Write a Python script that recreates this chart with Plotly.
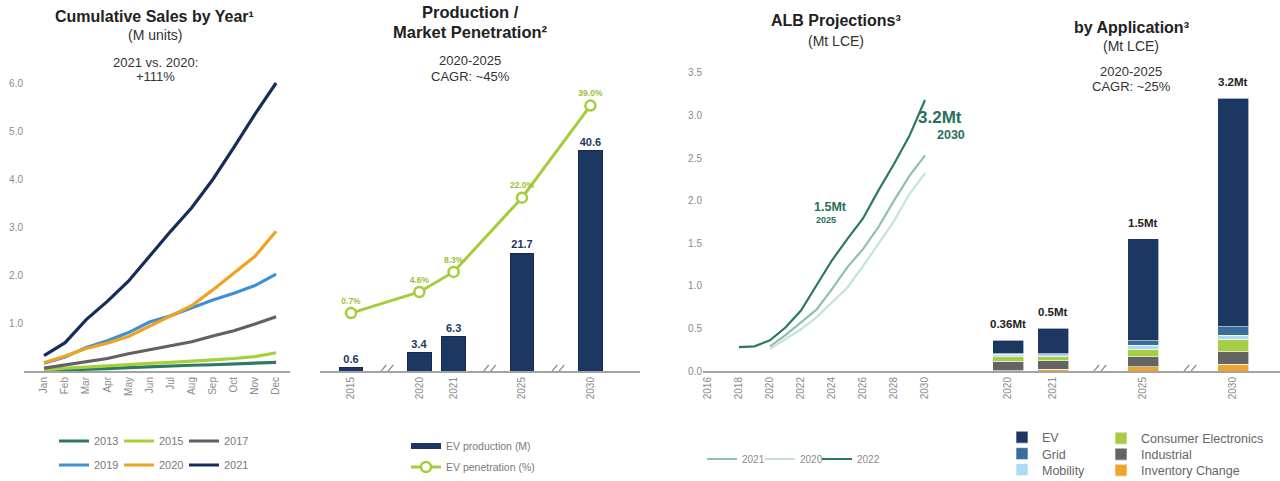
import plotly.graph_objects as go

# ---------------- data ----------------
months = ["Jan", "Feb", "Mar", "Apr", "May", "Jun", "Jul", "Aug", "Sep", "Oct", "Nov", "Dec"]
sales_2013 = [0.01, 0.02, 0.035, 0.05, 0.07, 0.09, 0.10, 0.12, 0.13, 0.15, 0.16, 0.18]
sales_2015 = [0.02, 0.06, 0.08, 0.11, 0.13, 0.16, 0.18, 0.20, 0.23, 0.26, 0.30, 0.38]
sales_2017 = [0.06, 0.13, 0.20, 0.26, 0.36, 0.44, 0.52, 0.61, 0.73, 0.84, 0.98, 1.13]
sales_2019 = [0.16, 0.29, 0.49, 0.63, 0.80, 1.02, 1.15, 1.31, 1.48, 1.62, 1.78, 2.02]
sales_2020 = [0.17, 0.31, 0.47, 0.58, 0.72, 0.93, 1.15, 1.36, 1.69, 2.04, 2.39, 2.91]
sales_2021 = [0.32, 0.59, 1.07, 1.45, 1.87, 2.40, 2.91, 3.40, 3.99, 4.66, 5.35, 6.00]

prod_years = ["2015", "2020", "2021", "2025", "2030"]
ev_production = [0.6, 3.4, 6.3, 21.7, 40.6]
ev_penetration = [0.7, 4.6, 8.3, 22.0, 39.0]

proj_years = list(range(2018, 2031))
proj_2022 = [0.28, 0.29, 0.36, 0.51, 0.71, 1.00, 1.30, 1.55, 1.79, 2.12, 2.43, 2.76, 3.18]
proj_years_b = list(range(2020, 2031))
proj_2021 = [0.29, 0.42, 0.57, 0.72, 0.96, 1.22, 1.43, 1.69, 2.00, 2.29, 2.53]
proj_2020 = [0.26, 0.38, 0.49, 0.63, 0.80, 0.98, 1.23, 1.49, 1.76, 2.08, 2.32]

app_years = ["2020", "2021", "2025", "2030"]
app_inventory = [0.005, 0.02, 0.05, 0.08]
app_industrial = [0.11, 0.10, 0.117, 0.145]
app_consumer = [0.05, 0.045, 0.09, 0.15]
app_mobility = [0.03, 0.027, 0.047, 0.047]
app_grid = [0.01, 0.012, 0.05, 0.10]
app_ev = [0.155, 0.296, 1.196, 2.678]
app_labels = ["0.36Mt", "0.5Mt", "1.5Mt", "3.2Mt"]

# ---------------- helpers ----------------
W, H = 1280, 481
FONT = "Liberation Sans, Arial, sans-serif"
GRAY_TXT = "#8a8a8a"
AXIS = "#a3a3a3"


def fx(p):
    return p / W


def fy(p):
    return 1 - p / H


def slots(years):
    out = [0]
    for a, b in zip(years[:-1], years[1:]):
        out.append(out[-1] + (1 if int(b) - int(a) == 1 else 2))
    return out


def breaks(sl):
    return [(a + b) / 2 for a, b in zip(sl[:-1], sl[1:]) if b - a == 2]


prod_slots = slots(prod_years)
app_slots = slots(app_years)

fig = go.Figure()
legend_layouts = {}


def hleg(x, y, size, color, ew=None, order="normal"):
    d = dict(orientation="h", x=fx(x), y=fy(y), xanchor="left", yanchor="middle",
             font=dict(family=FONT, size=size, color=color),
             bgcolor="rgba(0,0,0,0)", traceorder=order, borderwidth=0)
    if ew is not None:
        d.update(entrywidth=ew, entrywidthmode="pixels")
    return d


# ---------------- panel 1 ----------------
p1 = [("2013", sales_2013, "#2b7a66", "legend"),
      ("2015", sales_2015, "#a7cf3d", "legend"),
      ("2017", sales_2017, "#616161", "legend"),
      ("2019", sales_2019, "#4190d6", "legend2"),
      ("2020", sales_2020, "#f0a321", "legend2"),
      ("2021", sales_2021, "#132e5b", "legend2")]
for name, vals, col, lg in p1:
    fig.add_trace(go.Scatter(x=months, y=vals, name=name, mode="lines",
                             line=dict(color=col, width=3.2), legend=lg,
                             xaxis="x", yaxis="y"))
legend_layouts["legend"] = hleg(54, 441, 11, "#7a7a7a", ew=20)
legend_layouts["legend2"] = hleg(54, 465, 11, "#7a7a7a", ew=20)

# ---------------- panel 2 ----------------
NAVY = "#1d3763"
GREEN = "#a5cc3a"
fig.add_trace(go.Bar(x=prod_slots, y=ev_production, width=0.7,
                     marker=dict(color=NAVY, line=dict(color="#16294d", width=1)),
                     text=[f"{v}" for v in ev_production], textposition="outside",
                     textfont=dict(color=NAVY, size=11, family=FONT, weight="bold"),
                     cliponaxis=False, showlegend=False, xaxis="x2", yaxis="y2"))
fig.add_trace(go.Scatter(x=[None], y=[None], mode="lines", name="EV production (M)",
                         line=dict(color=NAVY, width=6), legend="legend3",
                         xaxis="x2", yaxis="y2"))
fig.add_trace(go.Scatter(x=prod_slots, y=ev_penetration, mode="lines+markers+text",
                         name="EV penetration (%)",
                         line=dict(color=GREEN, width=3),
                         marker=dict(symbol="circle", size=10, color="white",
                                     line=dict(color=GREEN, width=2.5)),
                         text=[f"{v:.1f}%" for v in ev_penetration],
                         textposition="top center",
                         textfont=dict(color="#9bbf35", size=8.5, family=FONT, weight="bold"),
                         cliponaxis=False, legend="legend4", xaxis="x2", yaxis="y3"))
legend_layouts["legend3"] = hleg(406, 446, 10.5, "#7a7a7a")
legend_layouts["legend4"] = hleg(406, 467, 10.5, "#7a7a7a")

# ---------------- panel 3 ----------------
p3 = [("2021", proj_years_b, proj_2021, "#8dc0b4", "legend5", 702),
      ("2020", proj_years_b, proj_2020, "#c6e2dc", "legend6", 760),
      ("2022", proj_years, proj_2022, "#2a7a63", "legend7", 817)]
for name, xs, vals, col, lg, lx in p3:
    fig.add_trace(go.Scatter(x=xs, y=vals, name=name, mode="lines",
                             line=dict(color=col, width=2.2), legend=lg,
                             xaxis="x3", yaxis="y4"))
    legend_layouts[lg] = hleg(lx, 459, 10, "#8a8a8a")

# ---------------- panel 4 ----------------
segs = [("Inventory Change", app_inventory, "#efa52c", "legend8", 1101, 470.5),
        ("Industrial", app_industrial, "#646464", "legend9", 1101, 454.5),
        ("Consumer Electronics", app_consumer, "#a7cc45", "legend10", 1101, 438.5),
        ("Mobility", app_mobility, "#a9dcf6", "legend11", 1002, 470),
        ("Grid", app_grid, "#3a6d9c", "legend12", 1002, 454),
        ("EV", app_ev, "#1d3763", "legend13", 1002, 437.5)]
for name, vals, col, lg, lx, ly in segs:
    fig.add_trace(go.Bar(x=app_slots, y=vals, name=name, width=0.69,
                         marker=dict(color=col, line=dict(color="white", width=0.6)),
                         legend=lg, xaxis="x4", yaxis="y5"))
    legend_layouts[lg] = hleg(lx, ly, 12.5, "#666")
totals = [sum(v) for v in zip(*[s[1] for s in segs])]

# ---------------- axes ----------------
tick_font = dict(family=FONT, size=10, color=GRAY_TXT)
common_x = dict(showgrid=False, zeroline=False, showline=True, linecolor=AXIS,
                linewidth=2, ticks="", tickangle=-90, tickfont=tick_font, fixedrange=True,
                automargin=False)
common_y = dict(showgrid=False, zeroline=False, showline=False, ticks="",
                tickfont=tick_font, fixedrange=True, automargin=False)

y_dom_bottom = fy(371)

fig.update_layout(
    xaxis=dict(**common_x, domain=[fx(24), fx(290)], range=[-0.95, 11.66],
               type="category", anchor="y"),
    yaxis=dict(**common_y, domain=[y_dom_bottom, fy(60)], range=[0, 311 / 48],
               tickvals=[1, 2, 3, 4, 5, 6], ticktext=["1.0", "2.0", "3.0", "4.0", "5.0", "6.0"],
               anchor="x"),
    xaxis2=dict(**common_x, domain=[fx(320), fx(640)], range=[-0.906, 8.45],
                tickvals=prod_slots, ticktext=prod_years, anchor="y2"),
    yaxis2=dict(**common_y, domain=[y_dom_bottom, fy(83)], range=[0, 53.14],
                showticklabels=False, anchor="x2"),
    yaxis3=dict(**common_y, overlaying="y2", range=[-9.98, 53.14 - 9.98],
                showticklabels=False, anchor="x2"),
    xaxis3=dict(**common_x, domain=[fx(703), fx(960)], range=[2015.68, 2032.26],
                tickvals=list(range(2016, 2031, 2)), anchor="y4"),
    yaxis4=dict(**common_y, domain=[y_dom_bottom, fy(60)], range=[0, 311 / 85.2],
                tickvals=[0, 0.5, 1, 1.5, 2, 2.5, 3, 3.5], tickformat=".1f", anchor="x3"),
    xaxis4=dict(**common_x, domain=[fx(960), fx(1280)], range=[-1.067, 6.04],
                tickvals=app_slots, ticktext=app_years, anchor="y5"),
    yaxis5=dict(**common_y, domain=[y_dom_bottom, fy(60)], range=[0, 311 / 85.2],
                showticklabels=False, anchor="x4"),
    barmode="stack",
    width=W, height=H,
    margin=dict(l=0, r=0, t=0, b=0, pad=0, autoexpand=False),
    paper_bgcolor="white", plot_bgcolor="rgba(0,0,0,0)",
    font=dict(family=FONT, color="#333"),
)
fig.update_layout(**legend_layouts)

# ---------------- titles / annotations ----------------
anns = [
    ("Cumulative Sales by Year¹", 154, 17, 16, True, "#222"),
    ("(M units)", 155, 35, 14, False, "#333"),
    ("2021 vs. 2020:", 155, 62, 13, False, "#333"),
    ("+111%", 155, 77, 13, False, "#333"),
    ("Production /", 470, 12, 16.5, True, "#222"),
    ("Market Penetration²", 470, 32, 16.5, True, "#222"),
    ("2020-2025", 470, 61, 13, False, "#333"),
    ("CAGR: ~45%", 470, 76, 13, False, "#333"),
    ("ALB Projections³", 836, 21, 16, True, "#222"),
    ("(Mt LCE)", 836, 41, 14, False, "#333"),
    ("by Application³", 1131, 27, 16, True, "#222"),
    ("(Mt LCE)", 1131, 46, 14, False, "#333"),
    ("2020-2025", 1131, 71, 13, False, "#333"),
    ("CAGR: ~25%", 1131, 86, 13, False, "#333"),
]
for text, x, y, size, bold, col in anns:
    fig.add_annotation(text=text, x=fx(x), y=fy(y), xref="paper", yref="paper",
                       showarrow=False, xanchor="center", yanchor="middle",
                       font=dict(family=FONT, size=size, color=col,
                                 weight="bold" if bold else "normal"))

# panel 3 value callouts
TEAL = "#2a6f5e"
fig.add_annotation(text="1.5Mt", x=2023.9, y=1.93, xref="x3", yref="y4", showarrow=False,
                   font=dict(family=FONT, size=12.5, color=TEAL, weight="bold"))
fig.add_annotation(text="2025", x=2023.6, y=1.77, xref="x3", yref="y4", showarrow=False,
                   font=dict(family=FONT, size=9, color=TEAL, weight="bold"))
fig.add_annotation(text="3.2Mt", x=2031.0, y=2.98, xref="x3", yref="y4", showarrow=False,
                   font=dict(family=FONT, size=17, color=TEAL, weight="bold"))
fig.add_annotation(text="2030", x=2031.7, y=2.77, xref="x3", yref="y4", showarrow=False,
                   font=dict(family=FONT, size=12.5, color=TEAL, weight="bold"))

# panel 4 totals
for s, t, lab in zip(app_slots, totals, app_labels):
    fig.add_annotation(text=lab, x=s, y=t, xref="x4", yref="y5", showarrow=False,
                       yanchor="bottom", yshift=8,
                       font=dict(family=FONT, size=11.5, color="#222", weight="bold"))


# axis break marks
def add_break(xref, yref, pos):
    fig.add_shape(type="line", xref=xref, yref=yref, xsizemode="pixel", ysizemode="pixel",
                  xanchor=pos, yanchor=0, x0=-6, x1=6, y0=0, y1=0,
                  line=dict(color="white", width=4), layer="above")
    for off in (-4, 3):
        fig.add_shape(type="line", xref=xref, yref=yref, xsizemode="pixel", ysizemode="pixel",
                      xanchor=pos, yanchor=0, x0=off - 5, x1=off + 5, y0=-6, y1=6,
                      line=dict(color="#8a8a8a", width=1.2), layer="above")


for b in breaks(prod_slots):
    add_break("x2", "y2", b)
for b in breaks(app_slots):
    add_break("x4", "y5", b)

fig.write_html("out.html", config={"displayModeBar": False},
               post_script="document.body.style.margin='0';document.body.style.overflow='hidden';")
